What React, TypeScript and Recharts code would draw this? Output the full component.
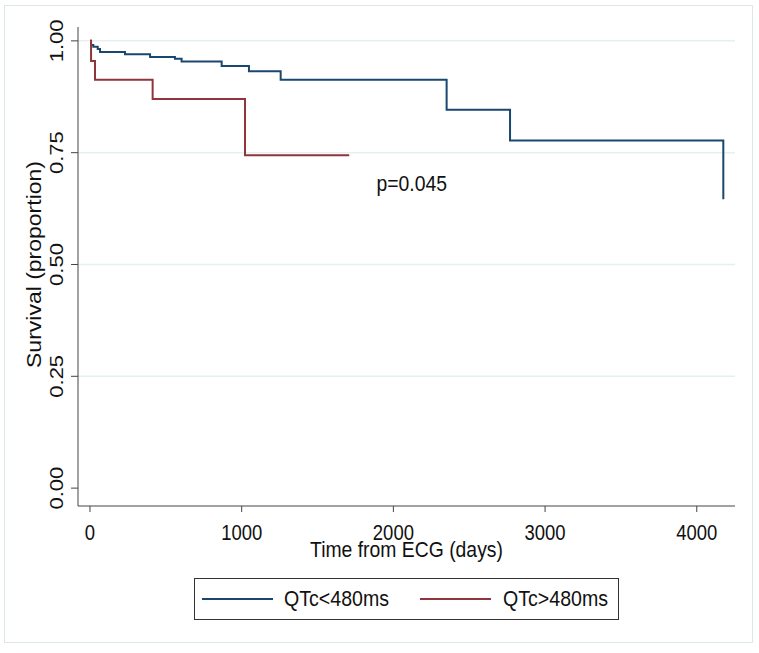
import { LineChart, Line, XAxis, YAxis, CartesianGrid, Legend, ReferenceDot } from 'recharts';

// Kaplan-Meier steps (days, survival proportion)
const lowQtcDays = [0, 7, 22, 51, 66, 231, 396, 560, 604, 868, 1048, 1257, 2351, 2769, 4175];
const lowQtcSurv = [1, 0.991, 0.987, 0.982, 0.975, 0.97, 0.964, 0.96, 0.954, 0.944, 0.932, 0.913, 0.846, 0.777, 0.646];
const highQtcDays = [0, 7, 33, 413, 1022, 1709];
const highQtcSurv = [1, 0.955, 0.913, 0.87, 0.744, 0.744];

const seriesNames = ['QTc<480ms', 'QTc>480ms'];
const seriesColors = ['#1a476f', '#90353b'];
const xTicks = [0, 1000, 2000, 3000, 4000];
const yTicks = [0, 0.25, 0.5, 0.75, 1];
const gridValues = [0.25, 0.5, 0.75, 1];
const pValue = 'p=0.045';

const lowData = lowQtcDays.map((t, i) => ({ t, s: lowQtcSurv[i] }));
const highData = highQtcDays.map((t, i) => ({ t, s: highQtcSurv[i] }));

// the source picture is squeezed sideways, so text is scaled to match
const FONT = "'Liberation Sans', Arial, sans-serif";

const SText = ({ x, y, angle = 0, sx = 0.88, sy = 1, size = 22, children }: any) => (
  <text
    x={0}
    y={0}
    transform={`translate(${x},${y}) rotate(${angle}) scale(${sx},${sy})`}
    textAnchor="middle"
    fontSize={size}
    fontFamily={FONT}
    fill="#111"
  >
    {children}
  </text>
);

const XTick = ({ x, y, payload }: any) => (
  <SText x={x} y={y + 28} sx={0.84}>
    {payload.value}
  </SText>
);

const YTick = ({ x, y, payload }: any) => (
  <SText x={x - 8} y={y} angle={-90} sx={1} sy={0.86}>
    {payload.value.toFixed(2)}
  </SText>
);

const squeeze = { transform: 'scaleX(0.89)', transformOrigin: 'left center' };

const LegendBox = () => (
  <div
    style={{
      position: 'relative',
      width: 425,
      height: 42,
      boxSizing: 'border-box',
      border: '1px solid #333',
      background: '#fff',
      fontFamily: FONT,
      fontSize: 22,
      lineHeight: '22px',
      color: '#111',
    }}
  >
    <div style={{ position: 'absolute', left: 7, top: 19, width: 71, height: 2, background: seriesColors[0] }} />
    <span style={{ position: 'absolute', left: 89, top: 9, whiteSpace: 'nowrap', ...squeeze }}>{seriesNames[0]}</span>
    <div style={{ position: 'absolute', left: 225, top: 19, width: 71, height: 2, background: seriesColors[1] }} />
    <span style={{ position: 'absolute', left: 308, top: 9, whiteSpace: 'nowrap', ...squeeze }}>{seriesNames[1]}</span>
  </div>
);

export default function App() {
  return (
    <div style={{ position: 'absolute', left: 0, top: 0, width: 759, height: 653, background: '#fff' }}>
      <div
        style={{
          position: 'absolute',
          left: 4,
          top: 5,
          width: 749,
          height: 638,
          boxSizing: 'border-box',
          border: '1px solid #dde6e9',
        }}
      />
      <div style={{ position: 'absolute', left: 0, top: 0 }}>
        <LineChart width={759} height={653} margin={{ top: 27, right: 24, left: 0, bottom: 117 }}>
          <CartesianGrid horizontal vertical={false} horizontalValues={gridValues} stroke="#e6eff1" strokeWidth={1.5} />
          <XAxis
            type="number"
            dataKey="t"
            domain={[-79, 4252]}
            ticks={xTicks}
            allowDataOverflow
            height={30}
            tickSize={6}
            tickMargin={0}
            tick={<XTick />}
            stroke="#444"
            label={{
              content: ({ viewBox }: any) => (
                <SText x={viewBox.x + viewBox.width / 2} y={viewBox.y + 51}>
                  Time from ECG (days)
                </SText>
              ),
            }}
          />
          <YAxis
            type="number"
            dataKey="s"
            domain={[-0.04, 1.031]}
            ticks={yTicks}
            allowDataOverflow
            width={78}
            tickSize={7}
            tickMargin={0}
            tick={<YTick />}
            stroke="#444"
            label={{
              content: ({ viewBox }: any) => (
                <SText
                  x={viewBox.x + 41}
                  y={viewBox.y + viewBox.height / 2 - 2}
                  angle={-90}
                  sx={1}
                  sy={0.86}
                  size={23}
                >
                  Survival (proportion)
                </SText>
              ),
            }}
          />
          <Line
            data={lowData}
            dataKey="s"
            name={seriesNames[0]}
            type="stepAfter"
            stroke={seriesColors[0]}
            strokeWidth={2}
            dot={false}
            isAnimationActive={false}
          />
          <Line
            data={highData}
            dataKey="s"
            name={seriesNames[1]}
            type="stepAfter"
            stroke={seriesColors[1]}
            strokeWidth={2}
            dot={false}
            isAnimationActive={false}
          />
          <ReferenceDot
            x={2121}
            y={0.664}
            r={0}
            shape={(p: any) => (
              <SText x={p.cx} y={p.cy}>
                {pValue}
              </SText>
            )}
          />
          <Legend
            verticalAlign="middle"
            align="center"
            content={<LegendBox />}
            wrapperStyle={{ left: 194, top: 578, width: 425, height: 42 }}
          />
        </LineChart>
      </div>
    </div>
  );
}
